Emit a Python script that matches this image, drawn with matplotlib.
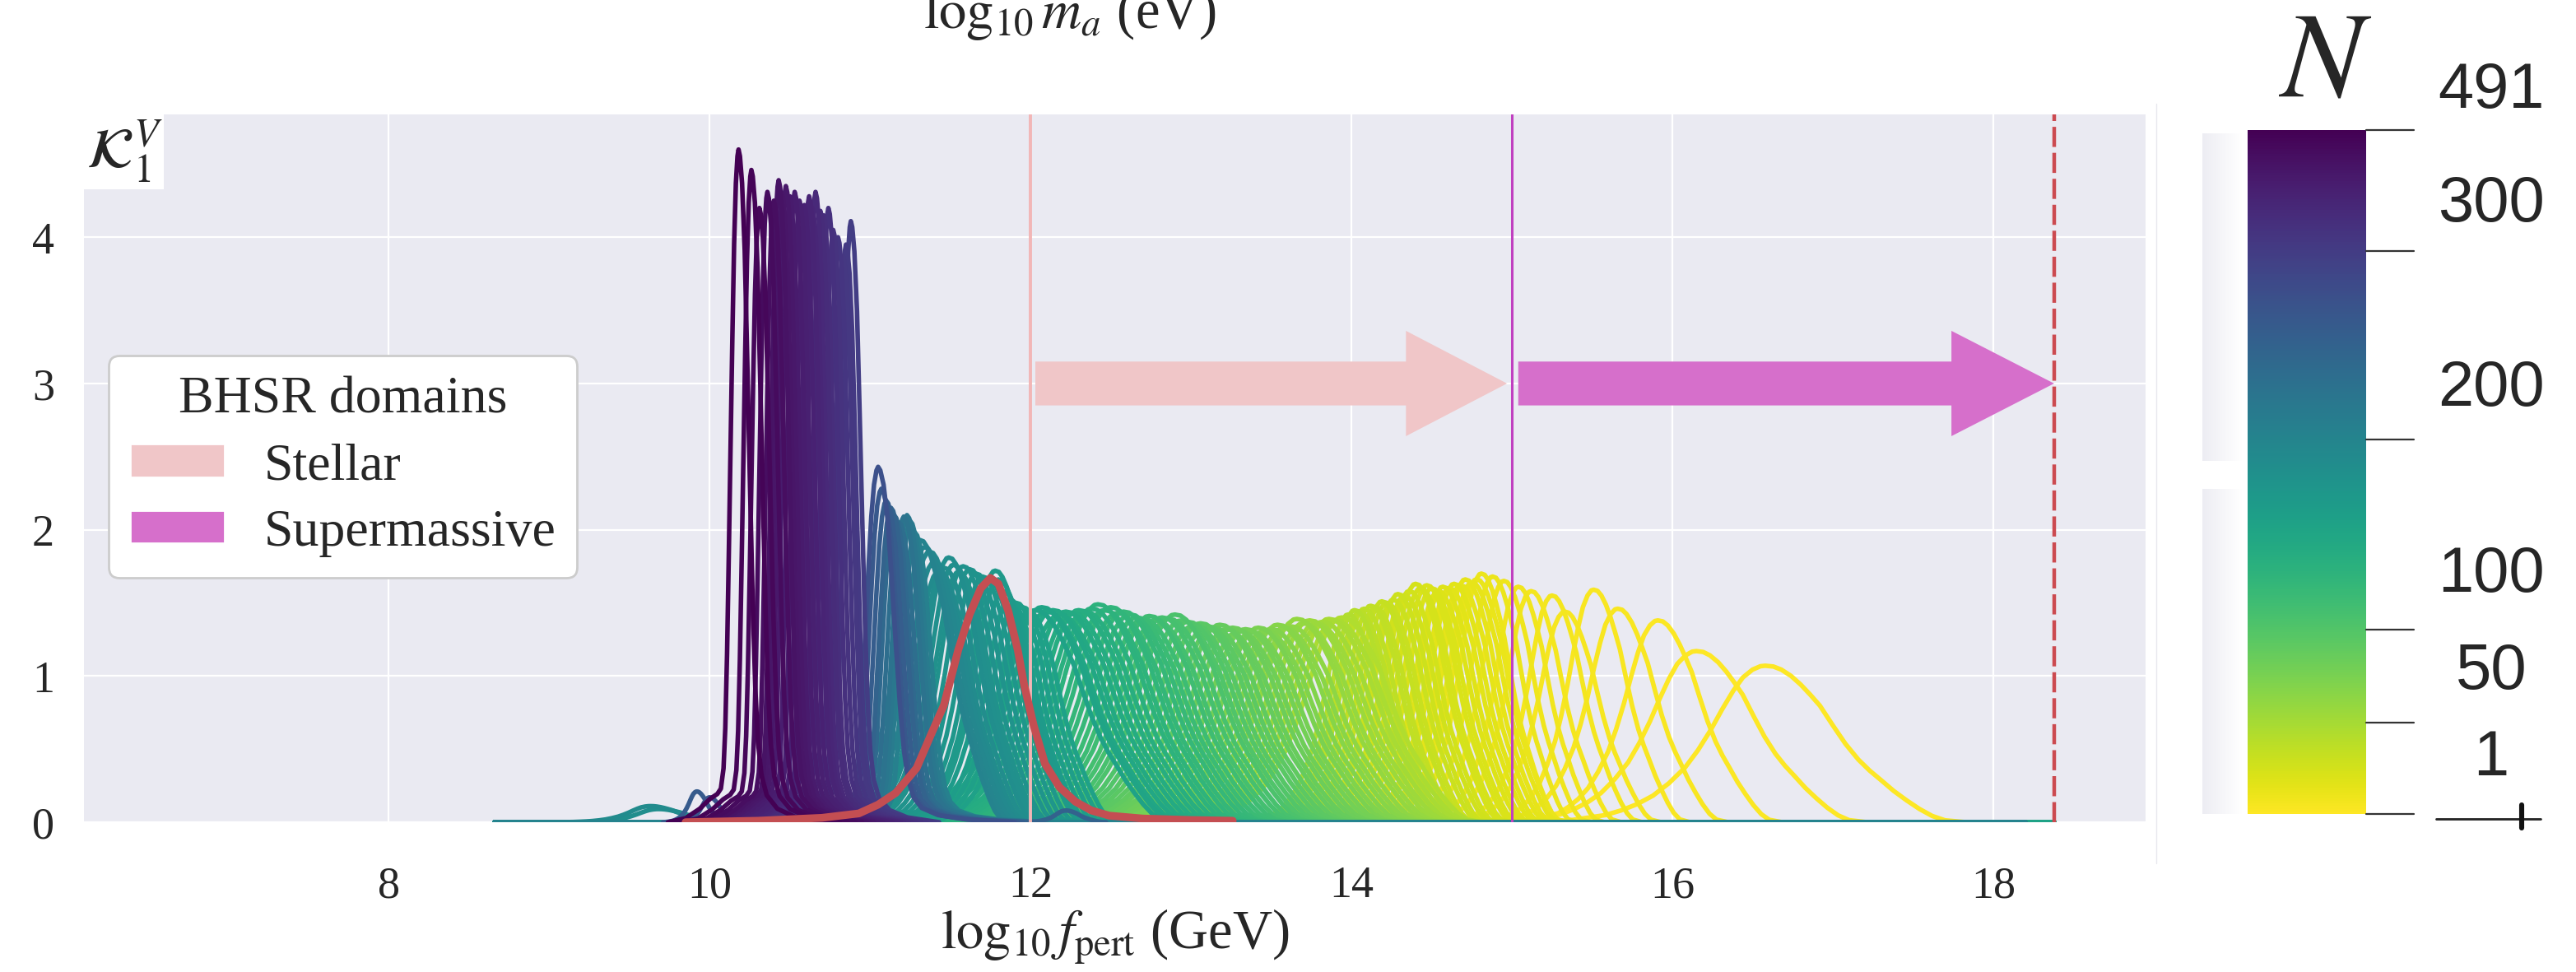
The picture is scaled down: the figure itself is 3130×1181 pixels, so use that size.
import numpy as np
import matplotlib.pyplot as plt
import seaborn as sns
from matplotlib.patches import Patch, Rectangle
from matplotlib.lines import Line2D
from matplotlib.colors import LinearSegmentedColormap

sns.set_style('darkgrid')
plt.rcParams['font.family'] = ['Liberation Serif', 'DejaVu Serif']
plt.rcParams['mathtext.fontset'] = 'stix'

# shape of one broad curve: offset from its peak and height relative to the peak
wide_u = np.array([-1.40, -1.20, -1.00, -0.90, -0.80, -0.70, -0.60, -0.50, -0.42, -0.34,
                   -0.27, -0.20, -0.14, -0.08, -0.03, 0.00, 0.05, 0.10, 0.16, 0.22,
                   0.28, 0.34, 0.42, 0.50, 0.58, 0.65, 0.72, 0.80, 0.88, 0.96,
                   1.04, 1.12, 1.25])
wide_v = np.array([0.000, 0.015, 0.045, 0.075, 0.115, 0.170, 0.250, 0.350, 0.460, 0.590,
                   0.720, 0.840, 0.925, 0.975, 0.997, 1.000, 0.995, 0.975, 0.935, 0.880,
                   0.815, 0.745, 0.620, 0.500, 0.400, 0.330, 0.270, 0.200, 0.140, 0.085,
                   0.040, 0.012, 0.000])
# shape of the tallest, narrow curve
narrow_u = np.array([-0.40, -0.30, -0.22, -0.16, -0.12, -0.10, -0.085, -0.075, -0.065, -0.055,
                     -0.045, -0.035, -0.025, -0.015, -0.006, 0.0, 0.008, 0.02, 0.035, 0.05,
                     0.065, 0.08, 0.095, 0.11, 0.13, 0.16, 0.22, 0.32, 0.50])
narrow_v = np.array([0.0, 0.006, 0.02, 0.035, 0.042, 0.05, 0.08, 0.14, 0.25, 0.40,
                     0.56, 0.72, 0.86, 0.95, 0.99, 1.0, 0.99, 0.95, 0.85, 0.68,
                     0.50, 0.33, 0.20, 0.12, 0.07, 0.04, 0.02, 0.008, 0.0])

# K_1^V curves: peak position, peak height, N, width scale
yellow_x = [16.58, 16.15, 15.91, 15.66, 15.51, 15.33, 15.25, 15.12, 15.04, 14.95, 14.88, 14.81]
yellow_h = [1.07, 1.17, 1.38, 1.46, 1.59, 1.44, 1.55, 1.58, 1.61, 1.65, 1.68, 1.70]
yellow_n = [1, 2, 3, 4, 5, 6, 7, 8, 9, 10, 11, 12]
yellow_s = [1.0, 0.85, 0.62, 0.55, 0.48, 0.48, 0.45, 0.45, 0.43, 0.43, 0.42, 0.42]

lime_x = [14.78, 14.75, 14.71, 14.68, 14.64, 14.61, 14.57, 14.54, 14.50, 14.47,
          14.43, 14.40, 14.36, 14.33, 14.29, 14.26, 14.22, 14.19, 14.15, 14.12,
          14.08, 14.05, 14.02, 13.98]
lime_h = [1.66, 1.64, 1.66, 1.62, 1.63, 1.60, 1.61, 1.58, 1.60, 1.62,
          1.60, 1.63, 1.58, 1.55, 1.56, 1.52, 1.50, 1.51, 1.47, 1.48,
          1.46, 1.44, 1.45, 1.42]
lime_n = [13, 14, 15, 16, 17, 18, 19, 20, 21, 22,
          24, 25, 26, 28, 29, 30, 32, 33, 35, 36,
          38, 39, 41, 43]

green_x = [13.94, 13.90, 13.86, 13.82, 13.78, 13.74, 13.70, 13.66, 13.62, 13.58,
           13.54, 13.50, 13.46, 13.42, 13.38, 13.34, 13.30, 13.26, 13.22, 13.18,
           13.14, 13.10, 13.06, 13.02, 12.98, 12.94, 12.90, 12.86, 12.82, 12.78,
           12.74, 12.70, 12.66, 12.62, 12.58, 12.54, 12.50, 12.46, 12.42, 12.38,
           12.34, 12.30, 12.26, 12.22, 12.18, 12.14, 12.10, 12.07, 12.03]
green_h = [1.40, 1.38, 1.39, 1.37, 1.36, 1.38, 1.36, 1.39, 1.34, 1.33,
           1.35, 1.32, 1.31, 1.33, 1.30, 1.32, 1.31, 1.33, 1.32, 1.35,
           1.33, 1.34, 1.36, 1.35, 1.37, 1.38, 1.42, 1.39, 1.40, 1.38,
           1.41, 1.39, 1.40, 1.42, 1.44, 1.43, 1.47, 1.45, 1.49, 1.46,
           1.44, 1.45, 1.43, 1.44, 1.42, 1.45, 1.44, 1.47, 1.45]
green_n = [45, 47, 49, 52, 54, 56, 59, 61, 63, 66,
           68, 70, 72, 75, 77, 79, 82, 84, 86, 88,
           91, 93, 95, 98, 100, 102, 105, 107, 109, 111,
           114, 116, 118, 121, 123, 125, 127, 130, 132, 134,
           137, 139, 141, 144, 146, 148, 150, 153, 156]

teal_x = [11.99, 11.95, 11.91, 11.87, 11.83, 11.80, 11.78, 11.74, 11.70, 11.66,
          11.62, 11.58, 11.55, 11.52, 11.49, 11.46, 11.43, 11.40, 11.37, 11.34, 11.31]
teal_h = [1.44, 1.47, 1.50, 1.52, 1.58, 1.66, 1.72, 1.65, 1.68, 1.70,
          1.73, 1.75, 1.71, 1.76, 1.81, 1.74, 1.72, 1.78, 1.85, 1.88, 1.93]
teal_n = [158, 160, 162, 164, 166, 168, 170, 172, 174, 176,
          178, 180, 182, 184, 186, 188, 190, 193, 196, 199, 202]

blue_x = [11.28, 11.25, 11.23, 11.21, 11.18, 11.15, 11.13, 11.10, 11.07, 11.05]
blue_h = [1.98, 2.06, 2.10, 2.09, 2.05, 2.10, 2.15, 2.20, 2.28, 2.43]
blue_n = [208, 214, 220, 226, 234, 242, 250, 258, 266, 275]

purple_x = [10.88, 10.85, 10.83, 10.80, 10.77, 10.74, 10.71, 10.69, 10.66, 10.64,
            10.62, 10.59, 10.56, 10.53, 10.50, 10.475, 10.45, 10.43, 10.40, 10.36,
            10.31, 10.26, 10.18]
purple_h = [4.11, 3.95, 3.87, 4.00, 4.05, 4.20, 4.15, 4.18, 4.31, 4.20,
            4.28, 4.22, 4.25, 4.31, 4.28, 4.35, 4.30, 4.39, 4.25, 4.31,
            4.20, 4.46, 4.60]
purple_n = [300, 310, 318, 326, 334, 342, 350, 358, 366, 374,
            382, 390, 398, 406, 414, 422, 430, 440, 450, 460,
            470, 480, 491]

bump_x = [9.63, 9.68, 9.92, 10.00, 12.22]
bump_h = [0.11, 0.09, 0.21, 0.17, 0.08]
bump_n = [190, 186, 262, 270, 252]
bump_s = [0.40, 0.40, 0.15, 0.15, 0.20]

# reference curve
red_x = [9.85, 10.30, 10.70, 10.93, 11.05, 11.16, 11.29, 11.38, 11.46, 11.55,
         11.62, 11.69, 11.75, 11.80, 11.86, 11.92, 11.96, 12.02, 12.09, 12.18,
         12.28, 12.38, 12.49, 12.70, 13.00, 13.26]
red_y = [0.0, 0.01, 0.03, 0.06, 0.12, 0.20, 0.37, 0.60, 0.80, 1.18,
         1.42, 1.60, 1.67, 1.63, 1.45, 1.18, 0.94, 0.66, 0.40, 0.24,
         0.14, 0.08, 0.045, 0.025, 0.015, 0.01]

# colour scale of N
cbar_n = [1, 50, 100, 200, 300, 491]
cbar_pos = [0.0, 0.134, 0.27, 0.548, 0.823, 1.0]

# BHSR domains
stellar_lo, stellar_hi = 12.0, 15.0
smbh_lo, smbh_hi = 15.0, 18.38
arrow_y = 3.0

stellar_c = '#F0C6C8'
smbh_c = '#D66FCB'

W, H = 3130, 1181


def px_box(x0, y0, x1, y1):
    return [x0 / W, 1 - y1 / H, (x1 - x0) / W, (y1 - y0) / H]


fig = plt.figure(figsize=(W / 200, H / 200), dpi=200)
ax = fig.add_axes(px_box(102, 139, 2607, 999))
ax.set_facecolor('#EAEAF2')
ax.grid(color='white', lw=0.8)
for sp in ax.spines.values():
    sp.set_visible(False)

wide = (wide_u, wide_v)
narrow = (narrow_u, narrow_v)
groups = [
    (yellow_x, yellow_h, yellow_n, yellow_s, wide, None, None),
    (lime_x, lime_h, lime_n, 0.45, wide, None, None),
    (green_x, green_h, green_n, 0.70, wide, None, 18.38),
    (teal_x, teal_h, teal_n, 0.45, wide, 8.66, 18.2),
    (blue_x, blue_h, blue_n, 1.7, narrow, None, None),
    (purple_x, purple_h, purple_n, 1.1, narrow, None, None),
    (bump_x, bump_h, bump_n, bump_s, wide, None, None),
]

curves = []
for xs, hs, ns, ss, (tu, tv), lo, hi in groups:
    ss = np.broadcast_to(np.asarray(ss, dtype=float), (len(xs),))
    for x0, h0, n0, s0 in zip(xs, hs, ns, ss):
        cx = x0 + s0 * tu
        cy = h0 * tv
        if lo is not None:
            cx = np.r_[lo, cx]
            cy = np.r_[0.0, cy]
        if hi is not None:
            cx = np.r_[cx, hi]
            cy = np.r_[cy, 0.0]
        curves.append((n0, cx, cy))

# low N first, so the dark curves end up on top
curves.sort(key=lambda c: c[0])
cmap = plt.cm.viridis_r
for n0, cx, cy in curves:
    ax.plot(cx, cy, color=cmap(np.interp(n0, cbar_n, cbar_pos)), lw=2.0,
            solid_joinstyle='round', zorder=2)

ax.axvline(stellar_lo, color='#F2B6B6', lw=1.4, zorder=3)
ax.axvline(smbh_lo, color='#C040C0', lw=1.1, zorder=3)
ax.axvline(smbh_hi, color='#CC4A50', lw=1.6, ls=(0, (5.5, 1.6)), zorder=3)

ax.plot(red_x, red_y, color='#C44E52', lw=3.4, zorder=4, solid_joinstyle='round')

ax.arrow(stellar_lo + 0.03, arrow_y, stellar_hi - stellar_lo - 0.06, 0, width=0.30,
         head_width=0.72, head_length=0.63, length_includes_head=True,
         color=stellar_c, lw=0, zorder=5)
ax.arrow(smbh_lo + 0.04, arrow_y, smbh_hi - smbh_lo - 0.04, 0, width=0.30,
         head_width=0.72, head_length=0.64, length_includes_head=True,
         color=smbh_c, lw=0, zorder=5)

ax.set_xlim(6.1, 18.95)
ax.set_ylim(0, 4.84)
ax.set_xticks([8, 10, 12, 14, 16, 18])
ax.set_yticks([0, 1, 2, 3, 4])
ax.tick_params(axis='x', labelsize=19.5, pad=19, length=0)
ax.tick_params(axis='y', labelsize=19.5, pad=13, length=0)
ax.set_xlabel(r'$\log_{10} f_{\mathrm{pert}}$ (GeV)', fontsize=24, labelpad=0)

# label in the upper left corner
ax.add_patch(Rectangle((0, 0.894), 0.0387, 0.106, transform=ax.transAxes,
                       facecolor='white', edgecolor='none', zorder=6, clip_on=False))
ax.text(0.001, 0.995, r'$\mathcal{K}_1^V$', transform=ax.transAxes, ha='left', va='top',
        fontsize=25, zorder=7)

handles = [Patch(facecolor=stellar_c, label='Stellar'),
           Patch(facecolor=smbh_c, label='Supermassive')]
leg = ax.legend(handles=handles, title='BHSR domains', loc='upper left',
                bbox_to_anchor=(0.012, 0.659), borderaxespad=0, fontsize=23,
                title_fontsize=23, handlelength=1.8, handleheight=0.6,
                handletextpad=0.75, labelspacing=0.35, frameon=True,
                facecolor='white', edgecolor='#CCCCCC', framealpha=1)
leg.set_zorder(8)

# top axis caption
fig.text(1300 / W, 1 - 34 / H, r'$\log_{10} m_a$ (eV)', ha='center', va='baseline',
         fontsize=24)

# colour bar for N
fig.add_artist(Line2D([2620 / W, 2620 / W], [1 - 126 / H, 1 - 1049 / H],
                      color='#E8E8EE', lw=0.5))
strip = fig.add_axes(px_box(2676, 162, 2724, 989))
strip.imshow(np.linspace(0, 1, 64)[None, :],
             cmap=LinearSegmentedColormap.from_list('fade', ['#EDEDF3', '#FFFFFF']),
             aspect='auto', extent=(0, 1, 0, 1))
strip.add_patch(Rectangle((0, (989 - 594) / 827), 1, 34 / 827, facecolor='white',
                          edgecolor='none'))
strip.set_xlim(0, 1)
strip.set_ylim(0, 1)
strip.axis('off')

cax = fig.add_axes(px_box(2731, 158, 2875, 989))
cax.imshow(np.linspace(0, 1, 256)[:, None], cmap=cmap, origin='lower', aspect='auto',
           extent=(0, 1, 0, 1))
cax.axis('off')

cb_bottom, cb_top = 989, 158
for p in cbar_pos:
    yy = 1 - (cb_bottom - p * (cb_bottom - cb_top)) / H
    fig.add_artist(Line2D([2875 / W, 2933 / W], [yy, yy], color='#333333', lw=0.8))
# squashed mark below the last tick
fig.add_artist(Line2D([2960 / W, 3087 / W], [1 - 995 / H, 1 - 995 / H],
                      color='#222222', lw=1.0))
fig.add_artist(Line2D([3064 / W, 3064 / W], [1 - 978 / H, 1 - 1006 / H],
                      color='#111111', lw=2.2))

cbar_label_y = [921, 816, 699, 472, 248, 111]
for n0, ly in zip(cbar_n, cbar_label_y):
    fig.text(3027 / W, 1 - ly / H, str(n0), ha='center', va='center', fontsize=28,
             family='Liberation Sans')
fig.text(2825 / W, 1 - 80 / H, r'$N$', ha='center', va='center', fontsize=54)

fig.savefig('out.png', dpi=200, facecolor='white')
